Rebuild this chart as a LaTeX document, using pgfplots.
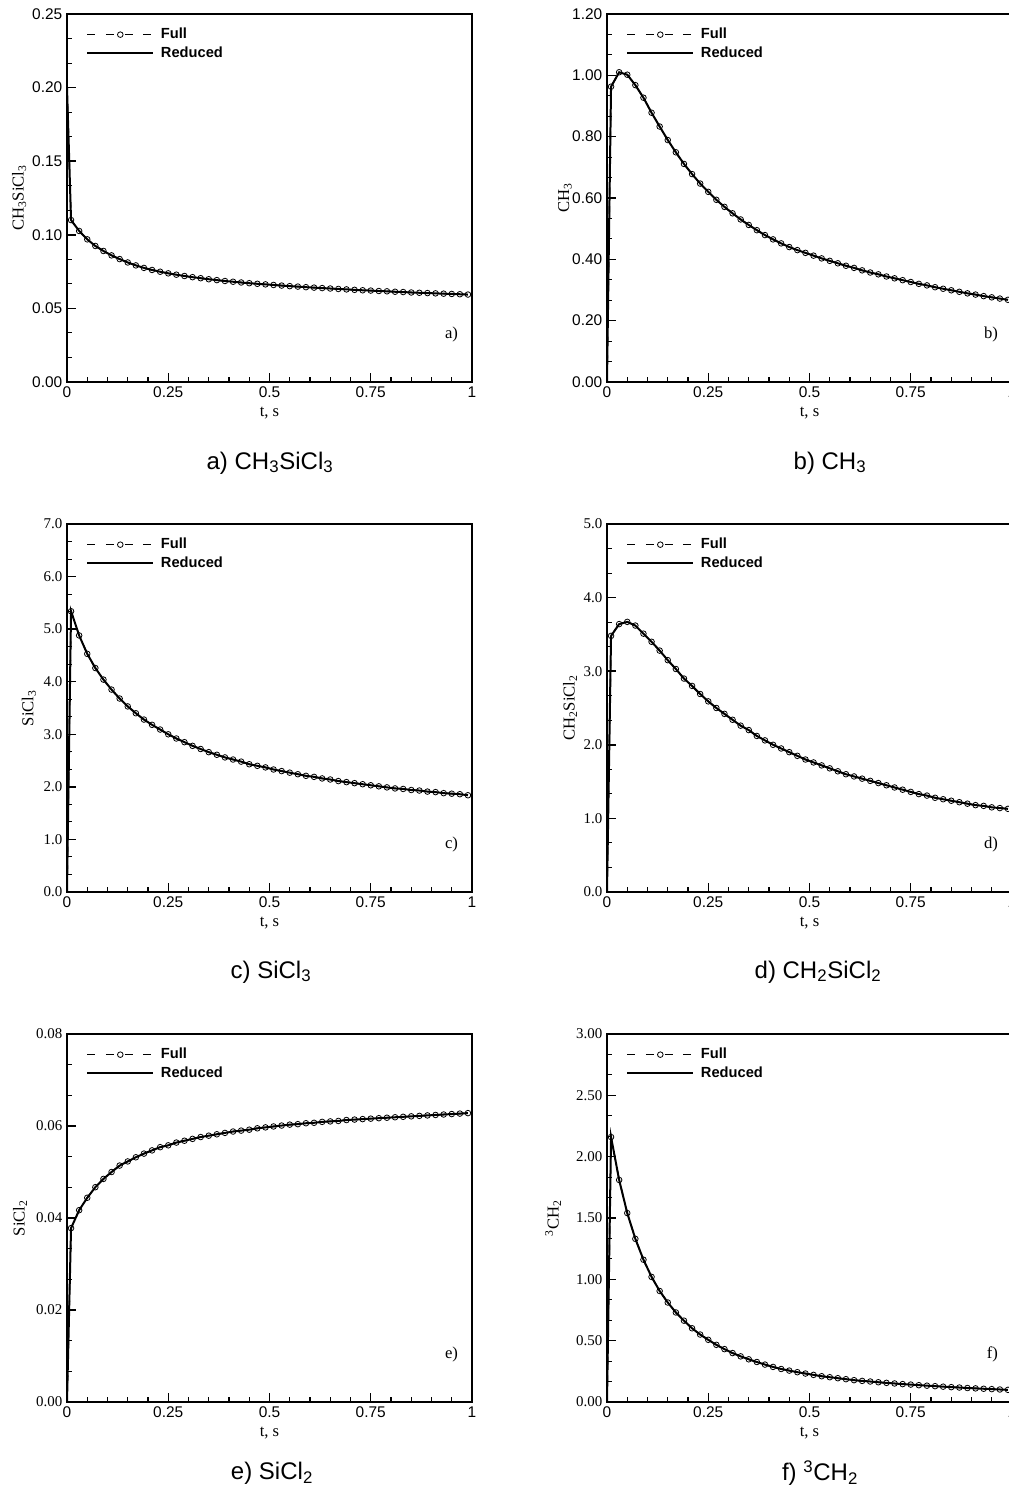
\documentclass[border=0pt]{standalone}
\usepackage{fontspec}
\setmainfont{Liberation Serif}
\setsansfont{Liberation Sans}
\usepackage{pgfplots}
\usepackage{pgfplotstable}
\pgfplotsset{compat=1.18}

% 1 px of the reference = 0.75pt
\pgfplotsset{
  panel/.style={
    scale only axis, width=303.75pt, height=276pt,
    xmin=0, xmax=1, ymin=0,
    scaled y ticks=false, scaled x ticks=false,
    xtick={0,0.25,0.5,0.75,1}, xticklabels={0,0.25,0.5,0.75,1},
    minor x tick num=4, minor y tick num=2,
    tick pos=left, tick align=inside,
    major tick length=6.75pt, minor tick length=3.75pt,
    major tick style={line width=1.1pt, black},
    minor tick style={line width=0.8pt, black},
    axis line style={line width=1.4pt},
    xticklabel style={font=\sffamily\fontsize{11.6}{13}\selectfont},
    label style={font=\rmfamily\fontsize{12.5}{14}\selectfont},
    xlabel={t, s},
    legend style={at={(rel axis cs:0.047,0.969)}, anchor=north west,
      draw=none, fill=none, inner sep=0pt, row sep=0.3pt, column sep=3pt,
      font=\sffamily\bfseries\fontsize{11}{12}\selectfont},
    legend cell align=left,
    legend image code/.code={\draw[##1, mark repeat=2, mark phase=2]
      plot coordinates {(0pt,0pt) (24.75pt,0pt) (49.5pt,0pt)};},
  },
  ylab/.style={ylabel style={at={(axis description cs:#1,0.5)}, anchor=center}},
  sfy/.style={yticklabel style={font=\sffamily\fontsize{11.6}{13}\selectfont}},
  rmy/.style={yticklabel style={font=\rmfamily\fontsize{11.2}{13}\selectfont}},
  full/.style={black, line width=1pt, dash pattern=on 6pt off 8pt,
    mark=o, mark size=2.1pt, mark options={solid, line width=0.6pt},
    mark repeat=1, mark phase=2},
  reduc/.style={black, line width=1.5pt},
}
\newcommand\letter[1]{\node[anchor=east, font=\rmfamily\fontsize{12.5}{14}\selectfont]
  at (rel axis cs:0.977,0.128) {#1};}
\tikzset{capt/.style={font=\sffamily\fontsize{18}{20}\selectfont}}

% CH3SiCl3
\pgfplotstableread{
t y
0 0.200
0.01 0.1100
0.03 0.1026
0.05 0.0969
0.07 0.0924
0.09 0.0890
0.11 0.0860
0.13 0.0835
0.15 0.0812
0.17 0.0792
0.19 0.0775
0.21 0.0761
0.23 0.0749
0.25 0.0738
0.27 0.0729
0.29 0.0720
0.31 0.0712
0.33 0.0705
0.35 0.0698
0.37 0.0692
0.39 0.0686
0.41 0.0681
0.43 0.0676
0.45 0.0671
0.47 0.0667
0.49 0.0663
0.51 0.0659
0.53 0.0655
0.55 0.0651
0.57 0.0648
0.59 0.0644
0.61 0.0641
0.63 0.0638
0.65 0.0635
0.67 0.0632
0.69 0.0629
0.71 0.0626
0.73 0.0623
0.75 0.0621
0.77 0.0618
0.79 0.0616
0.81 0.0613
0.83 0.0611
0.85 0.0608
0.87 0.0606
0.89 0.0604
0.91 0.0602
0.93 0.0600
0.95 0.0598
0.97 0.0596
0.99 0.0594
}\dataA

% CH3
\pgfplotstableread{
t y
0 0
0.01 0.963
0.03 1.010
0.05 1.002
0.07 0.968
0.09 0.927
0.11 0.878
0.13 0.833
0.15 0.789
0.17 0.749
0.19 0.711
0.21 0.678
0.23 0.647
0.25 0.620
0.27 0.594
0.29 0.571
0.31 0.550
0.33 0.530
0.35 0.512
0.37 0.495
0.39 0.479
0.41 0.465
0.43 0.452
0.45 0.440
0.47 0.430
0.49 0.421
0.51 0.412
0.53 0.403
0.55 0.395
0.57 0.387
0.59 0.379
0.61 0.372
0.63 0.364
0.65 0.357
0.67 0.351
0.69 0.344
0.71 0.338
0.73 0.332
0.75 0.326
0.77 0.320
0.79 0.315
0.81 0.309
0.83 0.304
0.85 0.299
0.87 0.294
0.89 0.289
0.91 0.285
0.93 0.280
0.95 0.276
0.97 0.272
0.99 0.268
}\dataB

% SiCl3
\pgfplotstableread{
t y
0 0
0.01 5.34
0.03 4.88
0.05 4.53
0.07 4.26
0.09 4.04
0.11 3.85
0.13 3.68
0.15 3.53
0.17 3.40
0.19 3.28
0.21 3.18
0.23 3.09
0.25 3.00
0.27 2.92
0.29 2.85
0.31 2.78
0.33 2.72
0.35 2.66
0.37 2.61
0.39 2.56
0.41 2.52
0.43 2.48
0.45 2.43
0.47 2.40
0.49 2.37
0.51 2.33
0.53 2.30
0.55 2.27
0.57 2.24
0.59 2.21
0.61 2.19
0.63 2.16
0.65 2.14
0.67 2.11
0.69 2.09
0.71 2.07
0.73 2.05
0.75 2.03
0.77 2.01
0.79 1.99
0.81 1.97
0.83 1.96
0.85 1.94
0.87 1.93
0.89 1.91
0.91 1.90
0.93 1.88
0.95 1.87
0.97 1.86
0.99 1.84
}\dataC

% CH2SiCl2
\pgfplotstableread{
t y
0 0
0.01 3.48
0.03 3.64
0.05 3.67
0.07 3.62
0.09 3.51
0.11 3.40
0.13 3.28
0.15 3.15
0.17 3.03
0.19 2.90
0.21 2.80
0.23 2.69
0.25 2.59
0.27 2.50
0.29 2.42
0.31 2.34
0.33 2.26
0.35 2.20
0.37 2.12
0.39 2.06
0.41 2.00
0.43 1.95
0.45 1.90
0.47 1.85
0.49 1.80
0.51 1.76
0.53 1.72
0.55 1.68
0.57 1.64
0.59 1.60
0.61 1.57
0.63 1.54
0.65 1.51
0.67 1.48
0.69 1.45
0.71 1.42
0.73 1.39
0.75 1.36
0.77 1.33
0.79 1.31
0.81 1.28
0.83 1.26
0.85 1.24
0.87 1.22
0.89 1.20
0.91 1.18
0.93 1.17
0.95 1.15
0.97 1.14
0.99 1.13
}\dataD

% SiCl2
\pgfplotstableread{
t y
0 0
0.01 0.0378
0.03 0.0417
0.05 0.0444
0.07 0.0467
0.09 0.0485
0.11 0.0500
0.13 0.0514
0.15 0.0523
0.17 0.0532
0.19 0.0540
0.21 0.0547
0.23 0.0554
0.25 0.0558
0.27 0.0564
0.29 0.0568
0.31 0.0572
0.33 0.0576
0.35 0.0579
0.37 0.0582
0.39 0.0585
0.41 0.0588
0.43 0.0590
0.45 0.0592
0.47 0.0595
0.49 0.0597
0.51 0.0599
0.53 0.0601
0.55 0.0603
0.57 0.0604
0.59 0.0606
0.61 0.0607
0.63 0.0609
0.65 0.0610
0.67 0.0611
0.69 0.0613
0.71 0.0614
0.73 0.0615
0.75 0.0616
0.77 0.0617
0.79 0.0618
0.81 0.0619
0.83 0.0620
0.85 0.0621
0.87 0.0622
0.89 0.0623
0.91 0.0624
0.93 0.0625
0.95 0.0626
0.97 0.0627
0.99 0.0628
}\dataE

% 3CH2
\pgfplotstableread{
t y
0 0
0.01 2.16
0.03 1.81
0.05 1.54
0.07 1.33
0.09 1.16
0.11 1.02
0.13 0.905
0.15 0.811
0.17 0.730
0.19 0.663
0.21 0.601
0.23 0.550
0.25 0.507
0.27 0.466
0.29 0.431
0.31 0.399
0.33 0.372
0.35 0.348
0.37 0.326
0.39 0.305
0.41 0.286
0.43 0.269
0.45 0.256
0.47 0.243
0.49 0.232
0.51 0.221
0.53 0.210
0.55 0.202
0.57 0.194
0.59 0.186
0.61 0.178
0.63 0.172
0.65 0.167
0.67 0.161
0.69 0.156
0.71 0.151
0.73 0.146
0.75 0.142
0.77 0.137
0.79 0.133
0.81 0.129
0.83 0.125
0.85 0.121
0.87 0.118
0.89 0.114
0.91 0.111
0.93 0.108
0.95 0.105
0.97 0.102
0.99 0.099
}\dataF

\begin{document}
\begin{tikzpicture}
\path[use as bounding box] (0pt,0pt) rectangle (756.75pt,1115.25pt);

% a)
\begin{axis}[panel, sfy, ylab=-0.118, at={(50.25pt,828.75pt)}, anchor=south west,
  ymax=0.25, ytick={0,0.05,0.1,0.15,0.2,0.25},
  yticklabels={0.00,0.05,0.10,0.15,0.20,0.25},
  ylabel={CH\textsubscript{3}SiCl\textsubscript{3}}]
\addplot[full] table[x=t, y=y] {\dataA};
\addlegendentry{Full}
\addplot[reduc] table[x=t, y=y] {\dataA};
\addlegendentry{Reduced}
\letter{a)}
\end{axis}

% b)
\begin{axis}[panel, sfy, ylab=-0.104, at={(455.25pt,828.75pt)}, anchor=south west,
  ymax=1.2, ytick={0,0.2,0.4,0.6,0.8,1,1.2},
  yticklabels={0.00,0.20,0.40,0.60,0.80,1.00,1.20},
  ylabel={CH\textsubscript{3}}]
\addplot[full] table[x=t, y=y] {\dataB};
\addlegendentry{Full}
\addplot[reduc] table[x=t, y=y] {\dataB};
\addlegendentry{Reduced}
\letter{b)}
\end{axis}

% c)
\begin{axis}[panel, rmy, ylab=-0.094, at={(50.25pt,446.25pt)}, anchor=south west,
  ymax=7, ytick={0,1,2,3,4,5,6,7},
  yticklabels={0.0,1.0,2.0,3.0,4.0,5.0,6.0,7.0},
  ylabel={SiCl\textsubscript{3}}]
\addplot[full] table[x=t, y=y] {\dataC};
\addlegendentry{Full}
\addplot[reduc] table[x=t, y=y] {\dataC};
\addlegendentry{Reduced}
\letter{c)}
\end{axis}

% d)
\begin{axis}[panel, rmy, ylab=-0.091, at={(455.25pt,446.25pt)}, anchor=south west,
  ymax=5, ytick={0,1,2,3,4,5},
  yticklabels={0.0,1.0,2.0,3.0,4.0,5.0},
  ylabel={CH\textsubscript{2}SiCl\textsubscript{2}}]
\addplot[full] table[x=t, y=y] {\dataD};
\addlegendentry{Full}
\addplot[reduc] table[x=t, y=y] {\dataD};
\addlegendentry{Reduced}
\letter{d)}
\end{axis}

% e)
\begin{axis}[panel, rmy, ylab=-0.116, at={(50.25pt,63.75pt)}, anchor=south west,
  ymax=0.08, ytick={0,0.02,0.04,0.06,0.08},
  yticklabels={0.00,0.02,0.04,0.06,0.08},
  ylabel={SiCl\textsubscript{2}}]
\addplot[full] table[x=t, y=y] {\dataE};
\addlegendentry{Full}
\addplot[reduc] table[x=t, y=y] {\dataE};
\addlegendentry{Reduced}
\letter{e)}
\end{axis}

% f)
\begin{axis}[panel, rmy, ylab=-0.133, at={(455.25pt,63.75pt)}, anchor=south west,
  ymax=3, ytick={0,0.5,1,1.5,2,2.5,3},
  yticklabels={0.00,0.50,1.00,1.50,2.00,2.50,3.00},
  ylabel={\textsuperscript{3}CH\textsubscript{2}}]
\addplot[full] table[x=t, y=y] {\dataF};
\addlegendentry{Full}
\addplot[reduc] table[x=t, y=y] {\dataF};
\addlegendentry{Reduced}
\letter{f)}
\end{axis}

\node[capt] at (202.5pt,768pt) {a) CH\textsubscript{3}SiCl\textsubscript{3}};
\node[capt] at (622.5pt,768pt) {b) CH\textsubscript{3}};
\node[capt] at (203.25pt,386.25pt) {c) SiCl\textsubscript{3}};
\node[capt] at (613.5pt,386.25pt) {d) CH\textsubscript{2}SiCl\textsubscript{2}};
\node[capt] at (204pt,10.5pt) {e) SiCl\textsubscript{2}};
\node[capt] at (615pt,10.5pt) {f) \textsuperscript{3}CH\textsubscript{2}};
\end{tikzpicture}
\end{document}
